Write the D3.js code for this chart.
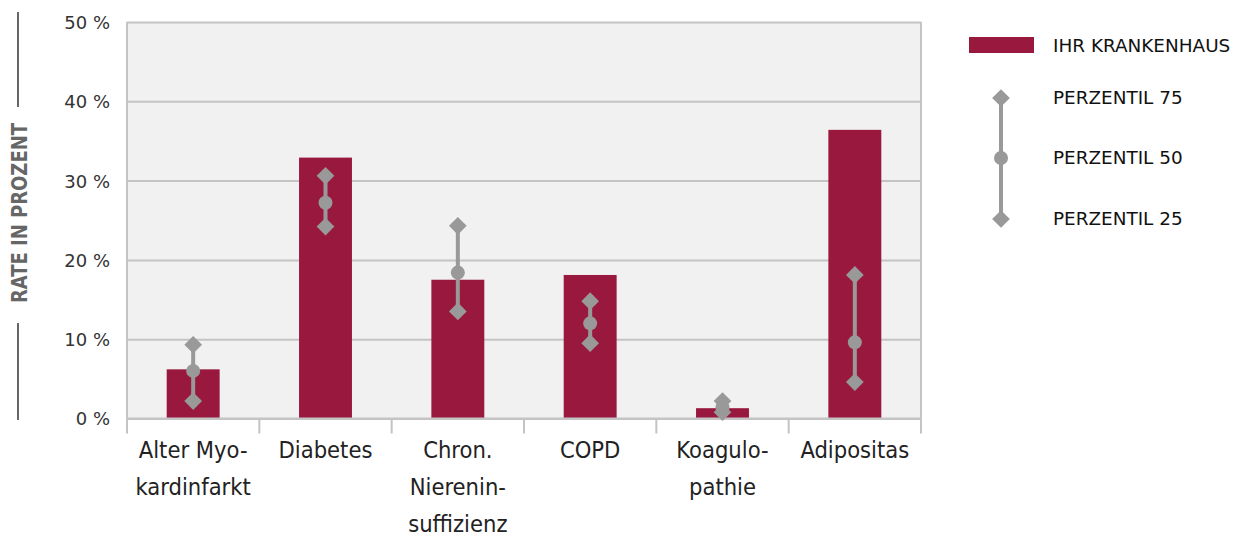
<!DOCTYPE html>
<html>
<head>
<meta charset="utf-8">
<script src="https://cdn.jsdelivr.net/npm/d3@7/dist/d3.min.js"></script>
<style>
  html, body { margin: 0; padding: 0; background: #fff; }
  svg { display: block; }
</style>
</head>
<body>
<svg id="chart" width="1239" height="538"></svg>
<script>
// ---- data ----
const categories = [
  ["Alter Myo-", "kardinfarkt"],
  ["Diabetes"],
  ["Chron.", "Nierenin-", "suffizienz"],
  ["COPD"],
  ["Koagulo-", "pathie"],
  ["Adipositas"]
];
const hospitalRate = [6.2, 32.9, 17.5, 18.1, 1.3, 36.4];
const perzentil75 = [9.3, 30.6, 24.3, 14.8, 2.2, 18.1];
const perzentil50 = [6.0, 27.2, 18.4, 12.0, 1.4, 9.6];
const perzentil25 = [2.2, 24.2, 13.5, 9.5, 0.8, 4.6];
const yTicks = [0, 10, 20, 30, 40, 50];
const legendLabels = ["IHR KRANKENHAUS", "PERZENTIL 75", "PERZENTIL 50", "PERZENTIL 25"];
const yAxisTitle = "RATE IN PROZENT";

// ---- layout ----
const svg = d3.select("#chart");
const plotL = 127, plotR = 921, plotT = 22, plotB = 418.5;
const barColor = "#99183e";
const markColor = "#999999";
const gridColor = "#c4c4c4";

const ids = categories.map((c, i) => i);
const x = d3.scaleBand().domain(ids).range([plotL, plotR]).padding(0);
const y = d3.scaleLinear().domain([0, 50]).range([plotB, plotT]);
const barW = x.bandwidth() * 0.4;

// plot background
svg.append("rect")
  .attr("x", plotL).attr("y", plotT)
  .attr("width", plotR - plotL).attr("height", plotB - plotT)
  .attr("fill", "#f1f1f1");

// gridlines
const yGrid = d3.axisLeft(y).tickValues(yTicks).tickSize(-(plotR - plotL)).tickFormat("");
const gg = svg.append("g").attr("transform", `translate(${plotL},0)`).call(yGrid);
gg.select(".domain").remove();
gg.selectAll(".tick line").attr("stroke", gridColor).attr("stroke-width", 2);

// left & right borders
svg.append("line").attr("x1", plotL).attr("x2", plotL).attr("y1", plotT).attr("y2", plotB)
  .attr("stroke", gridColor).attr("stroke-width", 2);
svg.append("line").attr("x1", plotR).attr("x2", plotR).attr("y1", plotT).attr("y2", plotB)
  .attr("stroke", gridColor).attr("stroke-width", 2);

// y tick labels
const yAx = d3.axisLeft(y).tickValues(yTicks).tickSize(0).tickPadding(0).tickFormat(d => d + " %");
const ya = svg.append("g").attr("transform", `translate(110,0)`).call(yAx);
ya.select(".domain").remove();
ya.selectAll("text")
  .attr("font-family", "DejaVu Sans, sans-serif")
  .attr("font-size", 18)
  .attr("fill", "#333")
  .attr("dy", "0.36em");

// bars
svg.append("g").selectAll("rect").data(hospitalRate).join("rect")
  .attr("x", (d, i) => x(i) + (x.bandwidth() - barW) / 2)
  .attr("y", d => y(d))
  .attr("width", barW)
  .attr("height", d => y(0) - y(d))
  .attr("fill", barColor);

// x axis line + ticks at boundaries
svg.append("line").attr("x1", plotL).attr("x2", plotR).attr("y1", plotB).attr("y2", plotB)
  .attr("stroke", gridColor).attr("stroke-width", 2);
const boundaries = ids.map(i => x(i)).concat([plotR]);
svg.append("g").selectAll("line").data(boundaries).join("line")
  .attr("x1", d => d).attr("x2", d => d)
  .attr("y1", plotB).attr("y2", plotB + 15)
  .attr("stroke", gridColor).attr("stroke-width", 2);

// percentile markers
const diamond = d3.symbol().type(d3.symbolDiamond2).size(200);
const mg = svg.append("g");
ids.forEach(i => {
  const cx = x(i) + x.bandwidth() / 2;
  mg.append("line")
    .attr("x1", cx).attr("x2", cx)
    .attr("y1", y(perzentil75[i])).attr("y2", y(perzentil25[i]))
    .attr("stroke", markColor).attr("stroke-width", 4);
  [perzentil75[i], perzentil25[i]].forEach(v => {
    mg.append("path").attr("d", diamond)
      .attr("transform", `translate(${cx},${y(v)})`)
      .attr("fill", markColor);
  });
  mg.append("circle").attr("cx", cx).attr("cy", y(perzentil50[i])).attr("r", 7)
    .attr("fill", markColor);
});

// x labels
const xl = svg.append("g");
categories.forEach((lines, i) => {
  const cx = x(i) + x.bandwidth() / 2;
  const t = xl.append("text")
    .attr("text-anchor", "middle")
    .attr("font-family", "DejaVu Sans Condensed, DejaVu Sans, sans-serif")
    .attr("font-size", 23.5)
    .attr("fill", "#222");
  lines.forEach((ln, k) => {
    t.append("tspan").attr("x", cx).attr("y", 458 + k * 37).text(ln);
  });
});

// y axis title with lines
const titleX = 18;
svg.append("line").attr("x1", titleX).attr("x2", titleX).attr("y1", 12).attr("y2", 107)
  .attr("stroke", "#666").attr("stroke-width", 2);
svg.append("line").attr("x1", titleX).attr("x2", titleX).attr("y1", 323).attr("y2", 420)
  .attr("stroke", "#666").attr("stroke-width", 2);
svg.append("text")
  .attr("transform", `translate(${titleX + 9},213) rotate(-90)`)
  .attr("text-anchor", "middle")
  .attr("font-family", "DejaVu Sans Condensed, DejaVu Sans, sans-serif")
  .attr("font-weight", "bold")
  .attr("font-size", 22)
  .attr("fill", "#666")
  .attr("textLength", 180)
  .attr("lengthAdjust", "spacingAndGlyphs")
  .text(yAxisTitle);

// legend
const lg = svg.append("g");
lg.append("rect").attr("x", 969).attr("y", 37).attr("width", 65).attr("height", 16).attr("fill", barColor);
const legendY = [52, 104, 164, 225];
const lm = 1001;
const legY = d3.scaleOrdinal().domain([75, 50, 25]).range([98, 158, 219]);
lg.append("line").attr("x1", lm).attr("x2", lm).attr("y1", legY(75)).attr("y2", legY(25))
  .attr("stroke", markColor).attr("stroke-width", 4);
[75, 25].forEach(p => lg.append("path").attr("d", diamond)
  .attr("transform", `translate(${lm},${legY(p)})`).attr("fill", markColor));
lg.append("circle").attr("cx", lm).attr("cy", legY(50)).attr("r", 7).attr("fill", markColor);
legendLabels.forEach((t, k) => {
  lg.append("text").attr("x", 1053).attr("y", legendY[k])
    .attr("font-family", "DejaVu Sans, sans-serif")
    .attr("font-size", 18.4)
    .attr("fill", "#111")
    .text(t);
});
</script>
</body>
</html>
